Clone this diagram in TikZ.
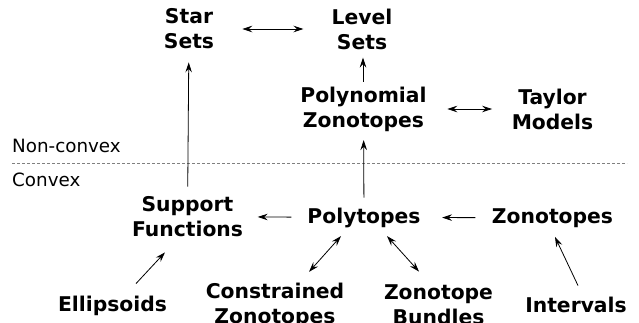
\documentclass[tikz,border=0pt]{standalone}
\usepackage{fontspec}
\setmainfont{DejaVu Sans}
\usetikzlibrary{arrows.meta}
\begin{document}
\begin{tikzpicture}[x=1pt,y=-1pt,
  setnode/.style={inner sep=0pt,align=center,font=\fontsize{20.3}{25}\selectfont\bfseries},
  regionlabel/.style={inner sep=0pt,anchor=base west,font=\fontsize{18.3}{22}\selectfont},
  tip/.tip={Stealth[length=10pt,width=6.5pt,inset=3.5pt]},
  arr/.style={line width=0.8pt,-tip},
  arrtwo/.style={line width=0.8pt,tip-tip},
  divider/.style={line width=0.8pt,gray,dash pattern=on 3pt off 2pt}]
\useasboundingbox (0,0) rectangle (639,322);
\clip (0,0) rectangle (639,322);
% nodes
\node[setnode] (star) at (189,29) {Star\\Sets};
\node[setnode] (level) at (362,29) {Level\\Sets};
\node[setnode] (pz) at (363.5,109) {Polynomial\\Zonotopes};
\node[setnode] (tm) at (552.5,109) {Taylor\\Models};
\node[setnode] (sup) at (187.5,216.6) {Support\\Functions};
\node[setnode,anchor=base] (poly) at (364,223) {Polytopes};
\node[setnode,anchor=base] (zon) at (552.5,223) {Zonotopes};
\node[setnode,anchor=base] (ell) at (112.5,311) {Ellipsoids};
\node[setnode] (cz) at (275,305) {Constrained\\Zonotopes};
\node[setnode] (zb) at (438.5,305) {Zonotope\\Bundles};
\node[setnode,anchor=base] (int) at (576,312) {Intervals};
\node[regionlabel] (nonconvex) at (12,152) {Non-convex};
\node[regionlabel] (convex) at (12,186) {Convex};
% divider
\coordinate (divL) at (12,163);
\coordinate (divR) at (627,163);
\draw[divider] (divL) -- (divR);
% connectors
\draw[arrtwo,shorten <=28pt,shorten >=28pt] (star) -- (level);
\draw[arr] ([shift={(-0.5,-4.5)}]pz.north) -- ([shift={(1,8)}]level.south);
\draw[arrtwo,shorten <=20.5pt,shorten >=19.5pt] (pz) -- (tm);
\draw[arr,shorten <=9.5pt,shorten >=13pt] (sup) -- (star);
\draw[arr,shorten <=16pt,shorten >=14.5pt] (poly) -- (sup);
\draw[arr,shorten <=16.5pt,shorten >=21.3pt] (zon) -- (poly);
\draw[arr,shorten <=9.8pt,shorten >=8.6pt] (poly) -- (pz);
\draw[arrtwo] ([shift={(-23,8.5)}]poly.south) -- ([shift={(34,-10.6)}]cz.north);
\draw[arrtwo] ([shift={(23,8.5)}]poly.south) -- ([shift={(-19.5,-13.2)}]zb.north);
\draw[arr] ([shift={(23.5,-11.8)}]ell.north) -- ([shift={(-22.5,15.4)}]sup.south);
\draw[arr] ([shift={(2,-10.8)}]int.north) -- ([shift={(2.5,9.5)}]zon.south);
\end{tikzpicture}
\end{document}
